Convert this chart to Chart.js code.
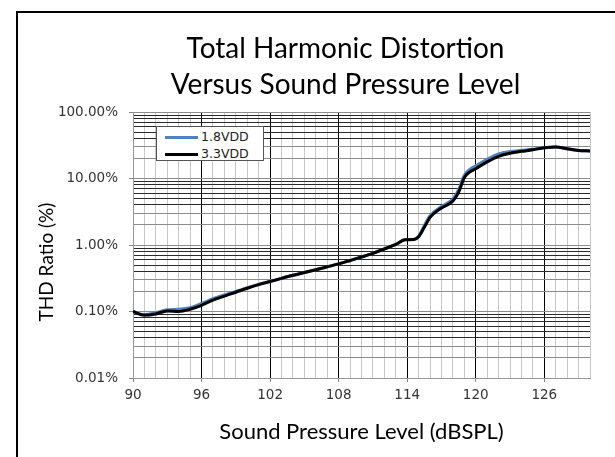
<!DOCTYPE html>
<html>
<head>
<meta charset="utf-8">
<script src="https://cdn.jsdelivr.net/npm/chart.js@4.4.1/dist/chart.umd.min.js"></script>
<style>
  body { margin: 0; background: #fff; }
  #wrap { position: relative; width: 615px; height: 457px; overflow: hidden; background: #fff; }
  #frame { position: absolute; left: 16px; top: 11px; width: 700px; height: 600px;
           border-left: 2px solid #000; border-top: 2px solid #000; }
  #chart { position: absolute; left: 0; top: 0; }
  #title { position: absolute; left: 38px; top: 29px; width: 615px; text-align: center;
           font: 28px/36.4px Lato, sans-serif; color: #000; }
  #legend { position: absolute; left: 156px; top: 126px; width: 106px; height: 33px;
            background: #fff; border: 1px solid #555; font: 12.5px "DejaVu Sans", sans-serif; color: #222; }
  #legend .item { position: absolute; left: 8px; height: 14px; line-height: 14px; white-space: nowrap; }
  #legend .swatch { display: inline-block; width: 33px; height: 3px; vertical-align: middle; margin-right: 3px; }
</style>
</head>
<body>
<div id="wrap">
  <div id="frame"></div>
  <canvas id="chart" width="615" height="457"></canvas>
  <div id="title"></div>
  <div id="legend"></div>
</div>
<script>
// sound pressure level (dBSPL)
const spl = [90, 91, 92, 93, 94, 95, 96, 97, 98, 99, 100, 101, 102, 103, 104, 105, 106, 107, 108, 109,
             110, 111, 112, 113, 113.8, 114.6, 115, 115.5, 116, 117, 118, 118.5, 119, 119.5, 120, 121,
             122, 123, 124, 125, 126, 127, 128, 129, 130];
// THD in percent
const thd18 = [0.098, 0.090, 0.096, 0.106, 0.108, 0.114, 0.132, 0.156, 0.178, 0.200, 0.228, 0.256, 0.282,
               0.315, 0.350, 0.385, 0.425, 0.470, 0.520, 0.585, 0.660, 0.750, 0.870, 1.02, 1.20, 1.22,
               1.36, 1.95, 2.75, 3.80, 4.90, 6.80, 11.2, 13.8, 15.5, 19.5, 23.5, 25.5, 26.5, 27.5, 29.0,
               29.8, 28.0, 26.3, 26.0];
const thd33 = [0.100, 0.088, 0.092, 0.102, 0.100, 0.108, 0.124, 0.148, 0.170, 0.195, 0.224, 0.254, 0.282,
               0.315, 0.350, 0.385, 0.425, 0.470, 0.520, 0.585, 0.660, 0.750, 0.870, 1.02, 1.20, 1.21,
               1.33, 1.85, 2.60, 3.60, 4.60, 6.20, 10.3, 12.6, 14.0, 17.8, 21.5, 24.0, 25.6, 27.0, 29.0,
               29.8, 28.0, 26.4, 26.0];

const seriesNames = ['1.8VDD', '3.3VDD'];
const seriesColors = ['#4f81bd', '#000000'];
const titleLines = ['Total Harmonic Distortion', 'Versus Sound Pressure Level'];
const xTitle = 'Sound Pressure Level (dBSPL)';
const yTitle = 'THD Ratio (%)';
const xMin = 90, xMax = 130, xLabelStep = 6;
const yMin = 0.01, yMax = 100;

function mantissa(v) {
    const e = Math.floor(Math.log10(v) + 1e-9);
    return Math.round(v / Math.pow(10, e) * 100) / 100;
}

// y axis title sits a bit below the plot middle in the original
const yTitlePlugin = {
    id: 'yTitle',
    afterDraw(chart) {
        const ctx = chart.ctx;
        ctx.save();
        ctx.translate(47, 262);
        ctx.rotate(-Math.PI / 2);
        ctx.font = '19px Lato';
        ctx.fillStyle = '#000';
        ctx.textAlign = 'center';
        ctx.textBaseline = 'middle';
        ctx.fillText(yTitle, 0, 0);
        ctx.restore();
    }
};

document.getElementById('title').innerHTML = titleLines.join('<br>');

const ctx = document.getElementById('chart').getContext('2d');
const chart = new Chart(ctx, {
    type: 'line',
    data: {
        datasets: [
            {
                label: seriesNames[0],
                data: spl.map((x, i) => ({ x: x, y: thd18[i] })),
                borderColor: seriesColors[0],
                borderWidth: 3,
                pointRadius: 0,
                cubicInterpolationMode: 'monotone',
                order: 1
            },
            {
                label: seriesNames[1],
                data: spl.map((x, i) => ({ x: x, y: thd33[i] })),
                borderColor: seriesColors[1],
                borderWidth: 3,
                pointRadius: 0,
                cubicInterpolationMode: 'monotone',
                order: 0
            }
        ]
    },
    options: {
        responsive: false,
        animation: false,
        layout: { padding: { left: 0, right: 25, top: 112, bottom: 0 } },
        plugins: {
            legend: { display: false },
            tooltip: { enabled: false },
            title: { display: false }
        },
        scales: {
            x: {
                type: 'linear',
                min: xMin,
                max: xMax,
                afterFit: s => { s.height = 79; },
                ticks: {
                    stepSize: 1,
                    autoSkip: false,
                    maxRotation: 0,
                    padding: 5,
                    color: '#333',
                    font: { family: 'DejaVu Sans', size: 13.5 },
                    callback: v => ((v - xMin) % xLabelStep === 0 ? String(v) : '')
                },
                grid: {
                    color: c => ((c.tick.value - xMin) % xLabelStep === 0 && c.tick.value !== xMin ? '#000' : '#c8c8c8'),
                    tickColor: c => ((c.tick.value - xMin) % xLabelStep === 0 ? '#888' : 'rgba(0,0,0,0)'),
                    tickLength: 4
                },
                border: { color: '#999' },
                title: {
                    display: true,
                    text: xTitle,
                    color: '#000',
                    font: { family: 'Lato', size: 22 },
                    padding: { top: 0, bottom: 12 }
                }
            },
            y: {
                type: 'logarithmic',
                min: yMin,
                max: yMax,
                afterFit: s => { s.width = 133; },
                afterBuildTicks: s => {
                    s.ticks = s.ticks.filter(t => Number.isInteger(mantissa(t.value)));
                },
                ticks: {
                    autoSkip: false,
                    padding: 11,
                    color: '#333',
                    font: { family: 'DejaVu Sans', size: 13.5 },
                    callback: v => (mantissa(v) === 1 ? v.toFixed(2) + '%' : '')
                },
                grid: {
                    color: c => {
                        const m = mantissa(c.tick.value);
                        return m <= 3 ? '#8c8c8c' : '#2a2a2a';
                    },
                    tickColor: c => (mantissa(c.tick.value) === 1 ? '#888' : 'rgba(0,0,0,0)'),
                    tickLength: 4
                },
                border: { color: '#999' }
            }
        }
    },
    plugins: [yTitlePlugin]
});

// legend box inside the plot, built from the datasets
const legendDiv = document.getElementById('legend');
chart.data.datasets.forEach((ds, i) => {
    const item = document.createElement('div');
    item.className = 'item';
    item.style.top = (3 + i * 17) + 'px';
    const sw = document.createElement('span');
    sw.className = 'swatch';
    sw.style.background = ds.borderColor;
    item.appendChild(sw);
    item.appendChild(document.createTextNode(ds.label));
    legendDiv.appendChild(item);
});
</script>
</body>
</html>
